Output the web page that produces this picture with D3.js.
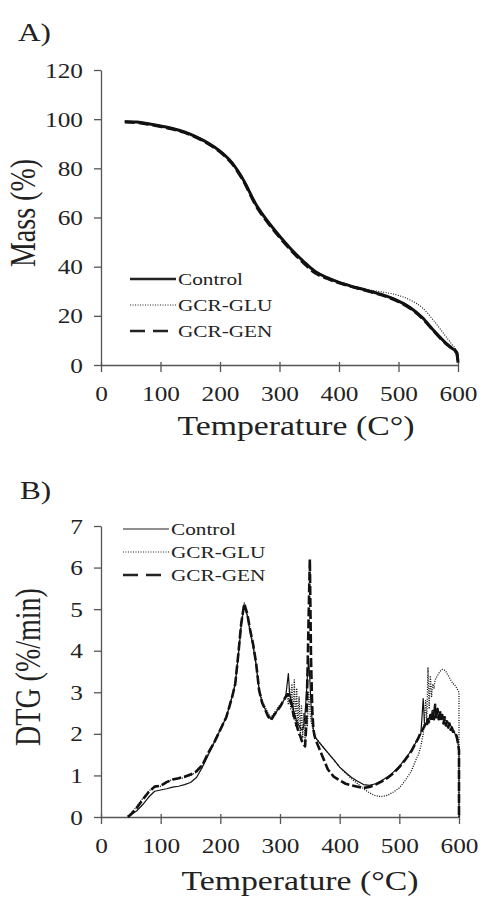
<!DOCTYPE html>
<html>
<head>
<meta charset="utf-8">
<script src="https://cdn.jsdelivr.net/npm/d3@7"></script>
<style>
  body { margin: 0; background: #fff; }
  text { font-family: "Liberation Serif", "Times New Roman", serif; fill: #222; }
</style>
</head>
<body>
<svg width="482" height="900"></svg>
<script>
// ---- data ----
var seriesNames = ["Control", "GCR-GLU", "GCR-GEN"];
var tempTicks = [0, 100, 200, 300, 400, 500, 600];
var massTicks = [0, 20, 40, 60, 80, 100, 120];
var dtgTicks = [0, 1, 2, 3, 4, 5, 6, 7];

// A) mass loss
var massTemp = [40,60,80,100,120,140,160,180,200,220,240,260,280,300,320,340,360,380,400,420,440,460,480,500,520,540,560,580,590,598,600];
var massControl = [99.0,98.8,98.1,97.2,96.2,94.8,92.8,90.3,87.0,82.3,75.0,65.5,58.5,52.5,47.0,42.2,38.0,35.5,33.6,32.1,30.8,29.5,28.0,26.0,23.3,19.3,13.8,8.8,6.8,5.0,1.0];
var massGlu = [99.2,98.9,98.2,97.3,96.3,95.0,93.0,90.5,87.2,82.5,75.3,65.8,58.7,52.7,47.2,42.4,38.3,35.8,33.9,32.4,31.0,30.2,29.4,28.3,26.4,23.3,17.8,11.5,8.3,5.5,1.5];
var massGen = [98.8,98.6,97.9,97.0,96.0,94.6,92.6,90.0,86.7,82.0,74.6,65.0,58.0,52.0,46.5,41.6,37.4,35.2,33.4,32.0,30.7,29.3,27.8,25.8,23.0,19.0,13.6,8.6,6.6,4.8,1.0];

// B) DTG
var dtgTemp = [45,50,60,70,80,90,100,110,120,130,140,150,160,170,180,190,200,210,220,225,230,235,240,245,250,255,260,265,270,280,285,290,300,
  302,304,306,308,310,312,314,316,318,320,322,324,326,328,330,332,334,336,338,340,342,344,346,348,350,352,354,356,358,
  360,370,380,390,400,410,420,430,440,450,460,470,480,490,500,510,520,530,
  532,534,536,538,540,542,544,546,548,550,552,554,556,558,560,562,564,566,568,570,572,574,576,578,580,582,584,586,588,590,592,594,596,598,
  600,600];
var dtgControl = [0.02,0.05,0.15,0.3,0.48,0.62,0.65,0.68,0.72,0.74,0.78,0.83,0.95,1.2,1.5,1.8,2.1,2.4,2.9,3.2,3.85,4.6,5.1,4.85,4.45,4.1,3.65,3.05,2.75,2.45,2.35,2.45,2.65,
  2.7,2.75,2.8,2.85,2.95,3.2,3.45,3.0,2.85,2.75,2.6,2.5,2.4,2.3,2.25,2.2,2.15,2.1,2.1,2.2,2.5,2.9,3.4,3.8,3.3,2.7,2.3,2.1,1.95,
  1.9,1.72,1.55,1.38,1.2,1.07,0.95,0.86,0.78,0.76,0.8,0.87,0.96,1.08,1.22,1.4,1.6,1.85,
  1.9,1.95,2.0,2.4,2.85,2.3,2.2,2.3,2.35,2.38,2.42,2.45,2.47,2.5,2.5,2.48,2.46,2.44,2.42,2.4,2.38,2.36,2.34,2.32,2.3,2.27,2.24,2.2,2.16,2.1,2.05,1.98,1.9,1.8,
  1.6,0];
var dtgGlu = [0.03,0.08,0.25,0.45,0.62,0.75,0.74,0.85,0.9,0.92,0.95,1.0,1.08,1.25,1.55,1.82,2.12,2.42,2.92,3.25,3.9,4.7,5.15,4.9,4.5,4.15,3.7,3.1,2.8,2.5,2.4,2.5,2.7,
  2.7,2.75,2.8,2.85,2.9,2.95,2.7,3.1,2.6,3.2,2.4,3.3,2.2,3.1,2.1,2.9,2.0,2.7,1.9,2.5,1.85,2.4,2.2,3.0,2.6,2.3,2.2,2.05,1.95,
  1.9,1.72,1.55,1.38,1.2,1.05,0.92,0.8,0.68,0.58,0.51,0.49,0.52,0.6,0.7,0.88,1.1,1.45,
  1.5,1.6,1.7,1.85,2.0,2.3,2.8,2.3,3.6,2.6,3.4,2.9,3.2,3.1,3.3,3.35,3.4,3.45,3.5,3.53,3.55,3.55,3.53,3.5,3.45,3.4,3.35,3.3,3.25,3.2,3.2,3.15,3.1,3.05,
  3.0,0];
var dtgGen = [0.0,0.06,0.22,0.42,0.6,0.73,0.75,0.84,0.9,0.93,0.97,1.02,1.1,1.25,1.55,1.8,2.1,2.4,2.9,3.2,3.9,4.65,5.13,4.9,4.5,4.15,3.7,3.05,2.75,2.42,2.33,2.45,2.65,
  2.7,2.75,2.8,2.85,2.9,2.95,2.95,2.85,2.75,2.7,2.5,2.4,2.3,2.2,2.1,2.0,1.95,1.85,1.8,1.75,1.7,2.2,3.4,4.8,6.2,3.8,2.6,2.1,1.95,
  1.85,1.5,1.15,0.97,0.88,0.8,0.76,0.73,0.7,0.72,0.78,0.85,0.94,1.05,1.2,1.38,1.58,1.85,
  1.9,1.97,2.03,2.08,2.13,2.18,2.25,2.2,2.35,2.28,2.45,2.3,2.55,2.35,2.7,2.4,2.6,2.35,2.55,2.3,2.45,2.25,2.4,2.2,2.3,2.15,2.25,2.1,2.15,2.05,2.05,2.0,1.95,1.8,
  1.6,0];

var svg = d3.select("svg");

// stretch text sideways like the scanned figure
function widen(sel, k) {
    sel.each(function() {
        var w = this.getComputedTextLength();
        d3.select(this).attr("textLength", w * k).attr("lengthAdjust", "spacingAndGlyphs");
    });
}

function drawPanel(cfg) {
    var g = svg.append("g");
    var x = d3.scaleLinear().domain([0, 600]).range(cfg.xRange);
    var y = d3.scaleLinear().domain(cfg.yDomain).range(cfg.yRange);

    // axes
    var xAxis = g.append("g")
        .attr("transform", "translate(0," + cfg.yRange[0] + ")")
        .call(d3.axisBottom(x).tickValues(tempTicks).tickFormat(d3.format("d"))
            .tickSize(7).tickPadding(13).tickSizeOuter(0));
    xAxis.selectAll(".tick line").attr("y1", -3);
    var yAxis = g.append("g")
        .attr("transform", "translate(" + cfg.xRange[0] + ",0)")
        .call(d3.axisLeft(y).tickValues(cfg.yTicks).tickFormat(d3.format("d"))
            .tickSize(7).tickPadding(11).tickSizeOuter(0));
    g.selectAll(".domain, .tick line").attr("stroke", "#555").attr("stroke-width", 1.3);
    g.selectAll(".tick text").style("font-size", "22px").attr("fill", "#333")
        .style("font-family", "'Liberation Serif', serif");
    widen(g.selectAll(".tick text"), 1.15);

    // curves
    var line = d3.line()
        .x(function(d) { return x(d[0]); })
        .y(function(d) { return y(d[1]); })
        .curve(cfg.curve);

    cfg.series.forEach(function(s) {
        var pts = cfg.temp.map(function(t, i) { return [t, s.values[i]]; });
        g.append("path")
            .datum(pts)
            .attr("fill", "none")
            .attr("stroke", "#111")
            .attr("stroke-width", s.width)
            .attr("stroke-dasharray", s.dash)
            .attr("stroke-linejoin", "round")
            .attr("d", line);
    });

    // legend
    var leg = g.selectAll(".legend")
        .data(cfg.series)
        .enter().append("g")
        .attr("class", "legend")
        .attr("transform", function(d, i) { return "translate(0," + (cfg.legY + i * cfg.legStep) + ")"; });
    leg.append("line")
        .attr("x1", cfg.legX).attr("x2", cfg.legX + 46)
        .attr("stroke", "#222")
        .attr("stroke-width", function(d) { return d.legWidth; })
        .attr("stroke-dasharray", function(d) { return d.legDash; });
    var lt = leg.append("text")
        .attr("x", cfg.legX + 48)
        .attr("dy", "0.35em")
        .style("font-size", "17px")
        .attr("fill", "#333")
        .text(function(d) { return d.name; });
    widen(lt, 1.25);

    // titles
    var xt = g.append("text")
        .attr("x", cfg.xTitlePos[0]).attr("y", cfg.xTitlePos[1])
        .attr("text-anchor", "middle")
        .style("font-size", "27px")
        .text(cfg.xTitle);
    widen(xt, 1.25);

    g.append("text")
        .attr("transform", "translate(" + cfg.yTitlePos[0] + "," + cfg.yTitlePos[1] + ") scale(1.25,1) rotate(-90)")
        .attr("text-anchor", "middle")
        .style("font-size", "28px")
        .text(cfg.yTitle);

    var pl = g.append("text")
        .attr("x", cfg.labelPos[0]).attr("y", cfg.labelPos[1])
        .style("font-size", "25px")
        .text(cfg.label);
    widen(pl, 1.25);
}

drawPanel({
    label: "A)", labelPos: [18, 41],
    xRange: [101, 458], yRange: [365, 70], yDomain: [0, 120], yTicks: massTicks,
    temp: massTemp, curve: d3.curveMonotoneX,
    series: [
        {name: seriesNames[0], values: massControl, width: 3, dash: null, legWidth: 2.6, legDash: null},
        {name: seriesNames[1], values: massGlu, width: 1.1, dash: "1,1.5", legWidth: 1.1, legDash: "1,1.5"},
        {name: seriesNames[2], values: massGen, width: 3, dash: "10,4", legWidth: 2.6, legDash: "15,8"}
    ],
    legX: 130, legY: 279, legStep: 26,
    xTitle: "Temperature (C°)", xTitlePos: [296, 435],
    yTitle: "Mass (%)", yTitlePos: [35, 213]
});

drawPanel({
    label: "B)", labelPos: [20, 499],
    xRange: [101, 459], yRange: [817, 526], yDomain: [0, 7], yTicks: dtgTicks,
    temp: dtgTemp, curve: d3.curveLinear,
    series: [
        {name: seriesNames[0], values: dtgControl, width: 1.2, dash: null, legWidth: 1.1, legDash: null},
        {name: seriesNames[1], values: dtgGlu, width: 1.3, dash: "1,1.4", legWidth: 1.1, legDash: "1,1.5"},
        {name: seriesNames[2], values: dtgGen, width: 2.6, dash: "9,3", legWidth: 2.6, legDash: "15,8"}
    ],
    legX: 123, legY: 529, legStep: 23,
    xTitle: "Temperature (°C)", xTitlePos: [300, 890],
    yTitle: "DTG (%/min)", yTitlePos: [40, 667]
});
</script>
</body>
</html>
